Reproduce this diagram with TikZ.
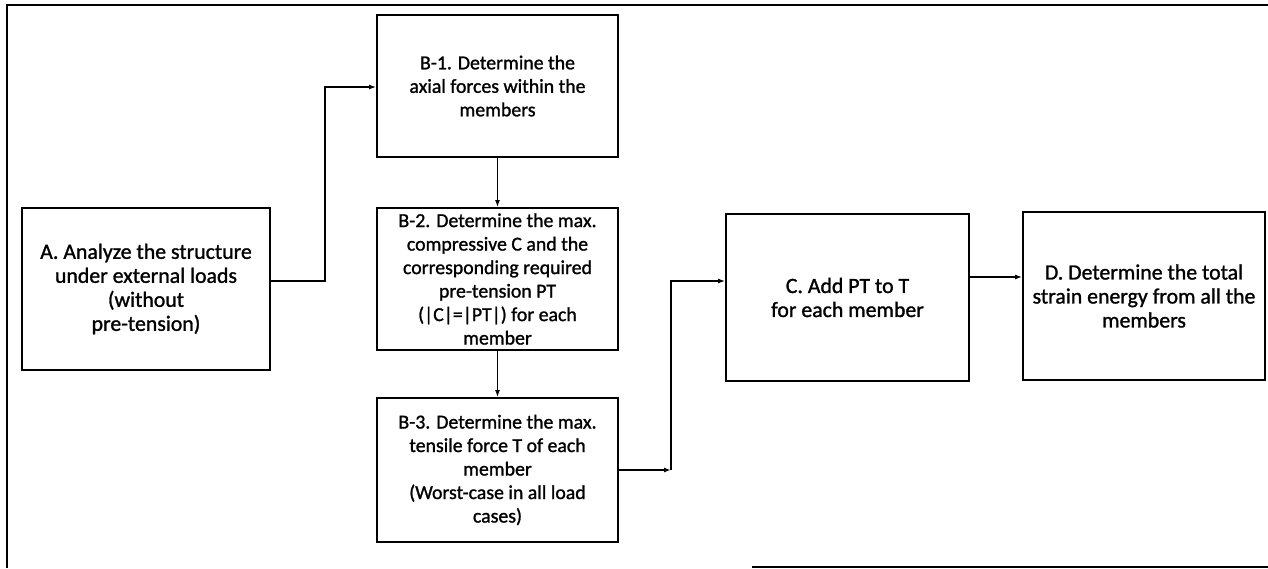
\documentclass[tikz,border=0pt]{standalone}
\usepackage{fontspec}
\setmainfont{Carlito}[RawFeature={embolden=1.2}]
\usetikzlibrary{arrows.meta}
\begin{document}
\begin{tikzpicture}[x=1pt,y=1pt,
  box/.style={draw=black,line width=1.8pt,align=center,inner sep=1pt,
    font=\fontsize{19.8}{23.5}\selectfont,text=black},
  bigbox/.style={box,font=\fontsize{21.8}{24}\selectfont},
  arr/.style={line width=1.6pt,-{Latex[length=7pt,width=5pt]}},
  frame/.style={line width=2.2pt}]
\useasboundingbox (0,0) rectangle (1268,-568);
% frame
\draw[frame] (7,-568) -- (7,-5) -- (1268,-5);
\draw[frame] (752,-567) -- (1268,-567);
% boxes
\node[bigbox,minimum width=248pt,minimum height=162pt] (A) at (146,-289)
  {A. Analyze the structure\\under external loads\\(without\\pre-tension)};
\node[box,minimum width=241pt,minimum height=142pt] (B1) at (497.5,-86)
  {B-1. Determine the\\axial forces within the\\members};
\node[box,minimum width=241pt,minimum height=142pt] (B2) at (497.5,-279)
  {B-2. Determine the max.\\compressive C and the\\corresponding required\\pre-tension PT\\(|C|=|PT|) for each\\member};
\node[box,minimum width=241pt,minimum height=144pt] (B3) at (497.5,-470)
  {B-3. Determine the max.\\tensile force T of each\\member\\(Worst-case in all load\\cases)};
\node[bigbox,minimum width=243pt,minimum height=167pt] (C) at (847.5,-297.5)
  {C. Add PT to T\\for each member};
\node[bigbox,minimum width=242pt,minimum height=168pt] (D) at (1144,-296)
  {D. Determine the total\\strain energy from all the\\members};
% connectors
\coordinate (k1) at (325,-281);
\coordinate (k2) at (325,-87);
\draw[arr] (A.east |- k1) -- (k1) -- (k2) -- (B1.west |- k2);
\draw[arr] (B1.south) -- (B2.north);
\draw[arr] (B2.south) -- (B3.north);
\coordinate (k3) at (671,-470);
\coordinate (k4) at (671,-281);
\draw[arr] (B3.east |- k3) -- (k3);
\draw[arr] (k3) -- (k4) -- (C.west |- k4);
\coordinate (k5) at (0,-277);
\draw[arr] (C.east |- k5) -- (D.west |- k5);
\end{tikzpicture}
\end{document}
